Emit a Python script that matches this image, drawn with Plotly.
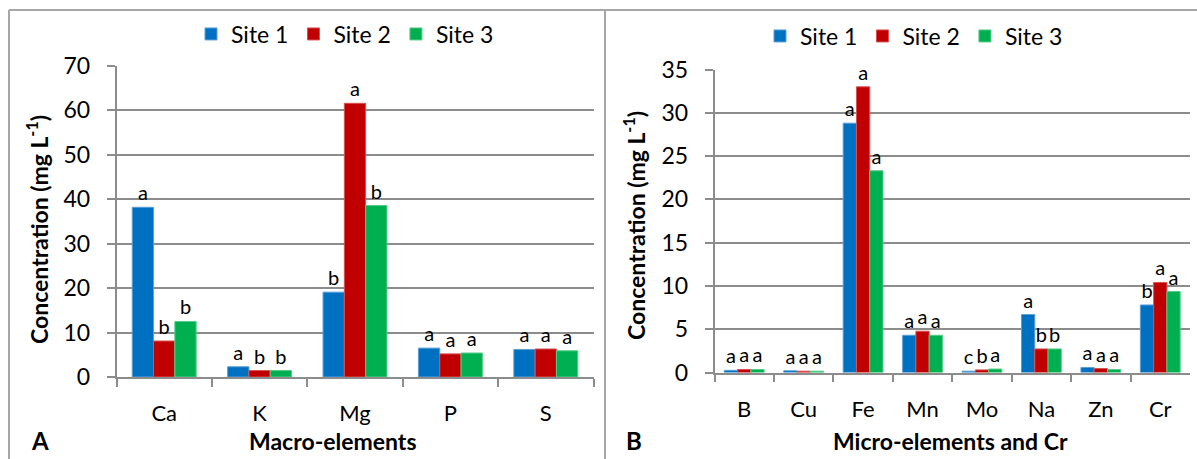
import plotly.graph_objects as go

# Macro-elements (panel A)
macro_elements = ["Ca", "K", "Mg", "P", "S"]
macro_site1 = [38.2, 2.3, 19.1, 6.5, 6.2]
macro_site2 = [8.1, 1.45, 61.6, 5.2, 6.3]
macro_site3 = [12.5, 1.45, 38.6, 5.4, 5.9]
macro_let1 = ["a", "a", "b", "a", "a"]
macro_let2 = ["b", "b", "a", "a", "a"]
macro_let3 = ["b", "b", "b", "a", "a"]

# Micro-elements and Cr (panel B)
micro_elements = ["B", "Cu", "Fe", "Mn", "Mo", "Na", "Zn", "Cr"]
micro_site1 = [0.25, 0.2, 28.8, 4.3, 0.15, 6.7, 0.58, 7.8]
micro_site2 = [0.35, 0.15, 33.0, 4.77, 0.3, 2.72, 0.46, 10.4]
micro_site3 = [0.35, 0.15, 23.3, 4.3, 0.4, 2.72, 0.35, 9.35]
micro_let1 = ["a", "a", "a", "a", "c", "a", "a", "b"]
micro_let2 = ["a", "a", "a", "a", "b", "b", "a", "a"]
micro_let3 = ["a", "a", "a", "a", "a", "b", "a", "a"]

site_names = ["Site 1", "Site 2", "Site 3"]
colors = ["#0070C0", "#C00000", "#00B050"]
edges = ["#5A9FD8", "#D95050", "#55CC88"]

FONT = "Lato"
GRID = "#8C8C8C"
W, H = 1197, 459

fig = go.Figure()

panels = [
    (macro_elements, [macro_site1, macro_site2, macro_site3],
     [macro_let1, macro_let2, macro_let3], "x", "y", "legend"),
    (micro_elements, [micro_site1, micro_site2, micro_site3],
     [micro_let1, micro_let2, micro_let3], "x2", "y2", "legend2"),
]

for cats, series, letters, xa, ya, leg in panels:
    for i in range(3):
        fig.add_trace(go.Bar(
            x=cats, y=series[i], name=site_names[i],
            marker=dict(color=colors[i], line=dict(color=edges[i], width=1)),
            text=letters[i], textposition="outside", constraintext="none",
            textfont=dict(family=FONT, size=20, color="#000000"),
            cliponaxis=False, xaxis=xa, yaxis=ya, legend=leg,
        ))


def px_x(v):
    return v / W


def px_y(v):
    return 1 - v / H


axis_common = dict(
    showline=True, linecolor=GRID, linewidth=1.5,
    ticks="outside", tickcolor=GRID, tickwidth=1.5, ticklen=8,
    automargin=False,
)
xtick_font = dict(family=FONT, size=22, color="#000000")
ytick_font = dict(family=FONT, size=23, color="#000000")
legend_font = dict(family=FONT, size=23, color="#000000")

fig.update_layout(
    width=W, height=H,
    margin=dict(l=0, r=0, t=0, b=0, autoexpand=False),
    paper_bgcolor="white", plot_bgcolor="white",
    barmode="group",
    bargap=0.33, bargroupgap=0,
    showlegend=True,
    xaxis=dict(domain=[px_x(116.5), px_x(593.5)], anchor="y",
               tickson="boundaries", ticklabelstandoff=16,
               tickfont=xtick_font, **axis_common),
    yaxis=dict(domain=[px_y(377), px_y(66)], anchor="x", range=[0, 70],
               dtick=10, showgrid=True, gridcolor=GRID, gridwidth=1.5,
               ticklabelstandoff=12, tickfont=ytick_font, **axis_common),
    xaxis2=dict(domain=[px_x(714.5), px_x(1190)], anchor="y2",
                tickson="boundaries", ticklabelstandoff=16,
                tickfont=xtick_font, **axis_common),
    yaxis2=dict(domain=[px_y(372.5), px_y(69.5)], anchor="x2", range=[0, 35],
                dtick=5, showgrid=True, gridcolor=GRID, gridwidth=1.5,
                ticklabelstandoff=12, tickfont=ytick_font, **axis_common),
    legend=dict(orientation="h", x=px_x(345), y=px_y(34), xanchor="center",
                yanchor="middle", font=legend_font,
                itemwidth=30, bgcolor="rgba(0,0,0,0)"),
    legend2=dict(orientation="h", x=px_x(914), y=px_y(36), xanchor="center",
                 yanchor="middle", font=legend_font,
                 itemwidth=30, bgcolor="rgba(0,0,0,0)"),
)

ytitle_font = dict(family=FONT, size=23, color="#000000")
xtitle_font = dict(family=FONT, size=23, color="#000000")
letter_font = dict(family=FONT, size=24, color="#000000")
ytitle = "<b>Concentration (mg L<sup>-1</sup>)</b>"
annotations = [
    dict(x=px_x(38), y=px_y(230), text=ytitle, textangle=-90, font=ytitle_font),
    dict(x=px_x(635), y=px_y(226), text=ytitle, textangle=-90, font=ytitle_font),
    dict(x=px_x(333), y=px_y(441), text="<b>Macro-elements</b>", font=xtitle_font),
    dict(x=px_x(950), y=px_y(441), text="<b>Micro-elements and Cr</b>", font=xtitle_font),
    dict(x=px_x(40), y=px_y(440), text="<b>A</b>", font=letter_font),
    dict(x=px_x(634), y=px_y(440), text="<b>B</b>", font=letter_font),
]
for a in annotations:
    fig.add_annotation(xref="paper", yref="paper", showarrow=False,
                       xanchor="center", yanchor="middle", **a)

# Panel frames
frame = dict(color="#A6A6A6", width=2)
fig.add_shape(type="line", xref="paper", yref="paper",
              x0=px_x(9), x1=1, y0=px_y(10), y1=px_y(10), line=frame)
fig.add_shape(type="line", xref="paper", yref="paper",
              x0=px_x(9), x1=px_x(9), y0=px_y(10), y1=0, line=frame)
fig.add_shape(type="line", xref="paper", yref="paper",
              x0=px_x(605), x1=px_x(605), y0=px_y(10), y1=0, line=frame)

fig.write_html("out.html")
